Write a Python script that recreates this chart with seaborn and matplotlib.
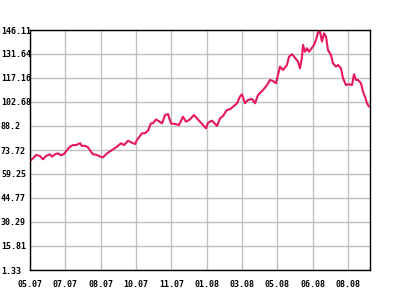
import matplotlib
matplotlib.use("Agg")
import matplotlib.pyplot as plt
import seaborn as sns
import pandas as pd

# trading-day index (0 = start of 05.07) and price values
days = [0, 3, 6, 10, 13, 16, 20, 22, 25, 28, 31, 34, 37, 40, 43, 46, 50, 52, 55, 58,
        61, 63, 66, 70, 73, 77, 82, 87, 91, 94, 98, 102, 105, 107, 112, 115, 118, 121,
        123, 126, 128, 132, 135, 138, 141, 145, 149, 153, 156, 160, 164, 167, 170, 173,
        176, 178, 182, 187, 190, 193, 197, 200, 203, 207, 210, 212, 215, 218, 222, 225,
        228, 233, 237, 240, 243, 246, 248, 250, 253, 257, 259, 262, 265, 268, 270, 272,
        273, 275, 277, 279, 282, 284, 286, 288, 290, 292, 294, 296, 298, 301, 303, 306,
        308, 311, 313, 316, 319, 322, 324, 326, 328, 331, 333, 335, 337, 339]
values = [67.1, 68.7, 70.7, 70.1, 68.1, 70.1, 71.1, 69.7, 71.1, 71.7, 70.5, 71.3, 73.7,
          75.7, 76.7, 76.7, 77.8, 76.1, 76.3, 75.3, 72.7, 71.1, 70.9, 69.8, 69.3, 71.7,
          73.7, 75.7, 77.8, 76.7, 79.3, 78.1, 77.3, 79.8, 83.8, 83.8, 85.4, 89.8, 89.8,
          92.2, 91.4, 89.8, 94.8, 95.4, 89.8, 89.4, 88.8, 93.8, 90.8, 92.2, 94.8, 92.8,
          90.8, 88.8, 86.8, 90.2, 91.4, 88.2, 92.8, 94.2, 97.9, 98.3, 99.8, 101.9, 106.0,
          107.3, 101.9, 103.9, 104.5, 101.9, 106.9, 109.9, 112.9, 116.0, 115.3, 114.0,
          119.0, 124.0, 122.0, 125.0, 130.0, 131.5, 129.4, 127.0, 123.0, 130.0, 137.1,
          133.0, 135.1, 133.0, 135.4, 137.1, 140.1, 144.7, 145.1, 139.1, 144.1, 142.1,
          134.0, 131.0, 126.0, 124.0, 125.0, 123.0, 117.0, 112.9, 113.4, 112.9, 119.4,
          116.0, 116.0, 114.0, 108.9, 105.9, 101.9, 99.9]

x_tick_labels = ["05.07", "07.07", "08.07", "10.07", "11.07", "01.08", "03.08",
                 "05.08", "06.08", "08.08"]
x_tick_pos = [0, 35.3, 70.7, 106, 141.3, 176.7, 212, 247.3, 282.7, 318]
y_ticks = [1.33, 15.81, 30.29, 44.77, 59.25, 73.72, 88.2, 102.68, 117.16, 131.64, 146.11]
y_tick_labels = ["1.33", "15.81", "30.29", "44.77", "59.25", "73.72", "88.2",
                 "102.68", "117.16", "131.64", "146.11"]

df = pd.DataFrame({"day": days, "value": values})

sns.set_style("white")
plt.rcParams["font.family"] = ["DejaVu Sans Mono"]

fig = plt.figure(figsize=(4, 3), dpi=100)
ax = fig.add_axes([0.075, 0.1, 0.85, 0.8])

sns.lineplot(data=df, x="day", y="value", ax=ax, color="#e8175d", linewidth=1.5)

ax.set_xlim(0, 340)
ax.set_ylim(1.33, 146.11)
ax.set_xticks(x_tick_pos)
ax.set_xticklabels(x_tick_labels)
ax.set_yticks(y_ticks)
ax.set_yticklabels(y_tick_labels)
ax.set_xlabel("")
ax.set_ylabel("")

ax.grid(True, color="#c0c0c0", linewidth=1.0)
ax.set_axisbelow(True)
for s in ax.spines.values():
    s.set_color("black")
    s.set_linewidth(1.0)
    s.set_visible(True)

ax.tick_params(axis="x", length=0, pad=7, labelsize=6, colors="black")
ax.tick_params(axis="y", length=0, pad=20.9, labelsize=6, colors="black")
for lab in ax.get_yticklabels():
    lab.set_horizontalalignment("left")
    lab.set_fontweight("bold")
for lab in ax.get_xticklabels():
    lab.set_fontweight("bold")

fig.savefig("out.png", dpi=100, facecolor="white")
